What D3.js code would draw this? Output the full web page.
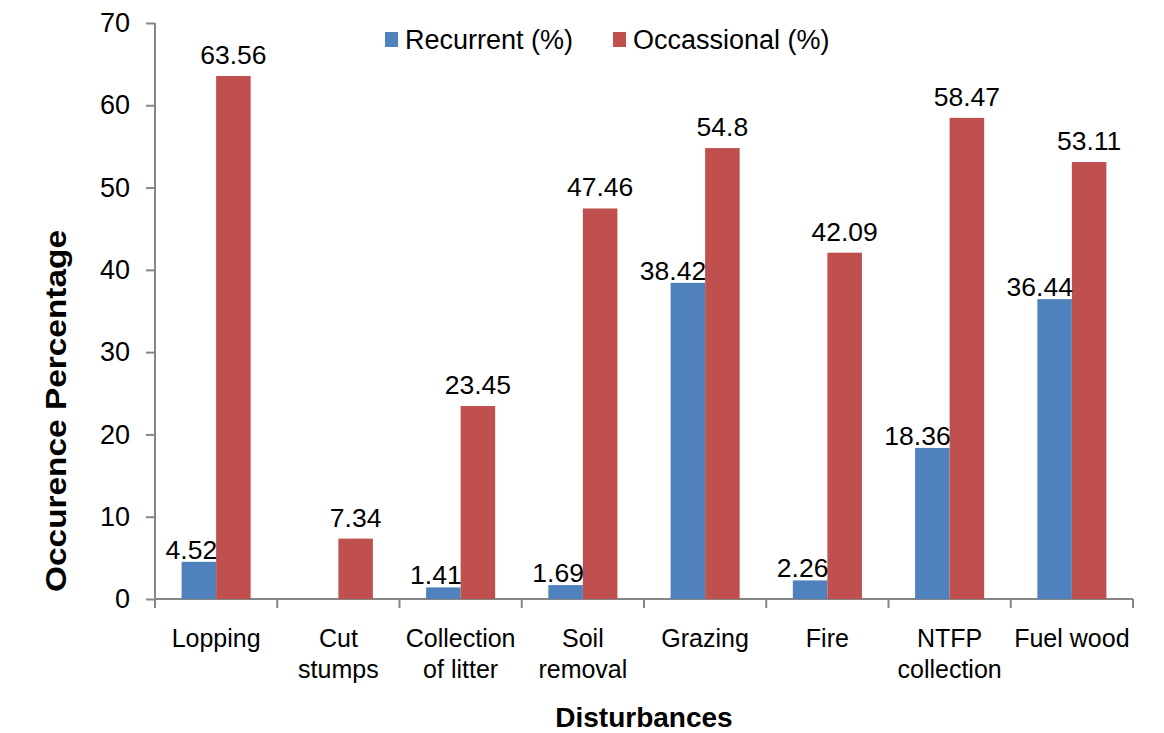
<!DOCTYPE html>
<html>
<head>
<meta charset="utf-8">
<script src="https://cdn.jsdelivr.net/npm/d3@7"></script>
<style>
  body { margin: 0; background: #fff; }
  text { font-family: Arial, "Liberation Sans", sans-serif; fill: #000; }
</style>
</head>
<body>
<div id="chart"></div>
<script>
// data
let categories = ['Lopping', 'Cut stumps', 'Collection of litter', 'Soil removal', 'Grazing', 'Fire', 'NTFP collection', 'Fuel wood']
let categoryLines = [['Lopping'], ['Cut', 'stumps'], ['Collection', 'of litter'], ['Soil', 'removal'], ['Grazing'], ['Fire'], ['NTFP', 'collection'], ['Fuel wood']]
let recurrent = [4.52, null, 1.41, 1.69, 38.42, 2.26, 18.36, 36.44]
let occasional = [63.56, 7.34, 23.45, 47.46, 54.8, 42.09, 58.47, 53.11]
let seriesNames = ['Recurrent (%)', 'Occassional (%)']
let yTicks = [0, 10, 20, 30, 40, 50, 60, 70]

let width = 1164
let height = 733
let blue = '#4F81BD'
let red = '#C0504D'
let axisColor = '#868686'

let svg = d3.select('#chart')
  .append('svg')
  .attr('width', width)
  .attr('height', height)

let x0 = d3.scaleBand()
  .domain(categories)
  .range([155, 1133])
  .paddingInner(0.435)
  .paddingOuter(0.2175)

let x1 = d3.scaleBand()
  .domain(seriesNames)
  .range([0, x0.bandwidth()])

let y = d3.scaleLinear()
  .domain([0, 70])
  .range([599, 23])

let step = x0.step()

// y axis
let yAxis = svg.append('g')
  .attr('transform', 'translate(155,0)')
  .call(d3.axisLeft(y).tickValues(yTicks).tickSize(9).tickPadding(16))
yAxis.select('.domain').attr('stroke', axisColor).attr('stroke-width', 2).attr('d', 'M0,' + y(70) + 'V' + y(0))
yAxis.selectAll('.tick line').attr('stroke', axisColor).attr('stroke-width', 2)
yAxis.selectAll('.tick text')
  .style('font-size', '27px')
  .attr('fill', '#000')
  .attr('font-family', 'Arial, "Liberation Sans", sans-serif')

// x axis line with ticks at category boundaries
let xAxis = svg.append('g')
xAxis.append('line')
  .attr('x1', 155).attr('x2', 1133)
  .attr('y1', y(0)).attr('y2', y(0))
  .attr('stroke', axisColor).attr('stroke-width', 2)
xAxis.selectAll('.xtick')
  .data(d3.range(categories.length + 1))
  .enter()
  .append('line')
  .attr('x1', function (d) { return 155 + d * step })
  .attr('x2', function (d) { return 155 + d * step })
  .attr('y1', y(0)).attr('y2', y(0) + 9)
  .attr('stroke', axisColor).attr('stroke-width', 2)

// category labels
let catLabels = svg.selectAll('.cat')
  .data(categories)
  .enter()
  .append('text')
  .attr('class', 'cat')
  .attr('text-anchor', 'middle')
  .style('font-size', '25px')
catLabels.selectAll('tspan')
  .data(function (d, i) { return categoryLines[i].map(function (t) { return [d, t] }) })
  .enter()
  .append('tspan')
  .attr('x', function (d) { return x0(d[0]) + x0.bandwidth() / 2 })
  .attr('y', function (d, i) { return 647 + i * 31 })
  .text(function (d) { return d[1] })

// bars
let rows = categories.map(function (c, i) {
  return [
    { cat: c, series: seriesNames[0], value: recurrent[i], color: blue },
    { cat: c, series: seriesNames[1], value: occasional[i], color: red }
  ]
})
let groups = svg.selectAll('.grp')
  .data(rows)
  .enter()
  .append('g')
  .attr('transform', function (d) { return 'translate(' + x0(d[0].cat) + ',0)' })

groups.selectAll('rect')
  .data(function (d) { return d.filter(function (e) { return e.value != null }) })
  .enter()
  .append('rect')
  .attr('x', function (d) { return x1(d.series) })
  .attr('y', function (d) { return y(d.value) })
  .attr('width', x1.bandwidth())
  .attr('height', function (d) { return y(0) - y(d.value) })
  .attr('fill', function (d) { return d.color })

// value labels
groups.selectAll('.val')
  .data(function (d) { return d.filter(function (e) { return e.value != null }) })
  .enter()
  .append('text')
  .attr('class', 'val')
  .style('font-size', '26.5px')
  .attr('text-anchor', function (d) { return d.series === seriesNames[0] ? 'end' : 'middle' })
  .attr('x', function (d) {
    return d.series === seriesNames[0] ? x1(d.series) + x1.bandwidth() + 1 : x1(d.series) + x1.bandwidth() / 2
  })
  .attr('y', function (d) { return y(d.value) - (d.series === seriesNames[0] ? 3 : 12) })
  .text(function (d) { return d.value })

// legend
let legend = svg.selectAll('.leg')
  .data(seriesNames)
  .enter()
  .append('g')
  .attr('transform', function (d, i) { return 'translate(' + [385, 613][i] + ',32)' })
legend.append('rect')
  .attr('width', 13).attr('height', 15)
  .attr('fill', function (d, i) { return [blue, red][i] })
legend.append('text')
  .attr('x', 20).attr('y', 17)
  .style('font-size', '27px')
  .text(function (d) { return d })

// axis titles
svg.append('text')
  .attr('transform', 'translate(66,411) rotate(-90)')
  .attr('text-anchor', 'middle')
  .attr('textLength', 362)
  .attr('lengthAdjust', 'spacingAndGlyphs')
  .style('font-size', '29px')
  .style('font-weight', 'bold')
  .text('Occurence Percentage')

svg.append('text')
  .attr('x', 644).attr('y', 727)
  .attr('text-anchor', 'middle')
  .style('font-size', '28px')
  .style('font-weight', 'bold')
  .text('Disturbances')
</script>
</body>
</html>
